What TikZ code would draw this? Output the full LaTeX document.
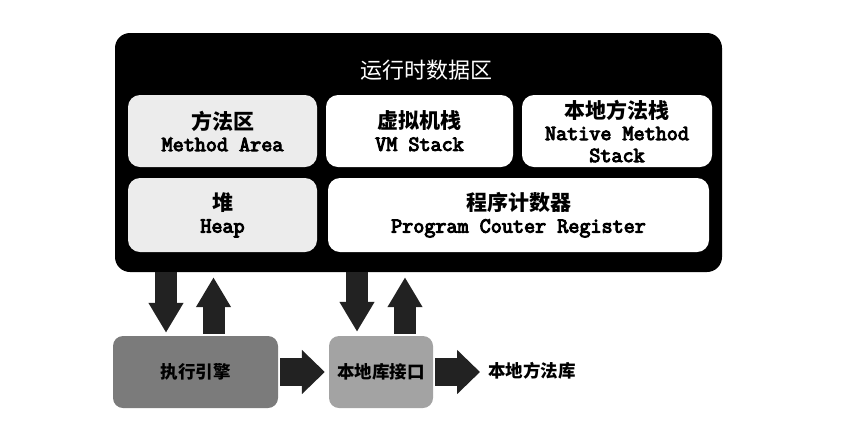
\documentclass[tikz,border=0pt]{standalone}
\usepackage{fontspec}
\usetikzlibrary{arrows.meta}
\newfontfamily\cjk{Noto Sans CJK SC}
\newfontfamily\mono[FakeBold=4.5]{Latin Modern Mono}
\definecolor{arrowc}{HTML}{222222}
\definecolor{lightfill}{HTML}{ECECEC}
\definecolor{eefill}{HTML}{7B7B7B}
\definecolor{lnifill}{HTML}{A3A3A3}
\newcommand{\zhl}[1]{{\cjk\bfseries\fontsize{21}{25}\selectfont #1}}
\newcommand{\enl}[1]{{\mono\fontsize{21.5}{20}\selectfont #1}}
\begin{document}
\begin{tikzpicture}[x=1pt,y=-1pt,
  area/.style={rounded corners=12pt, minimum height=72pt, align=center, inner sep=0pt, fill=white,
    font=\fontsize{18}{22}\selectfont},
  bottombox/.style={rounded corners=10pt, minimum height=72pt, inner sep=0pt,
    font=\cjk\bfseries\fontsize{17.5}{20}\selectfont},
  barrow/.style={draw=arrowc, line width=22pt, -{Triangle[width=33pt,length=30pt]}},
  harrow/.style={draw=arrowc, line width=28pt, -{Triangle[width=43pt,length=23pt]}}]
\useasboundingbox (0,0) rectangle (864,432);

% runtime data area
\node[fill=black, rounded corners=15pt, minimum width=607pt, minimum height=239pt, inner sep=0pt] (rt) at (418.5,152.5) {};
\node[text=white, font=\cjk\fontsize{22}{26}\selectfont] (title) at (426,70) {运行时数据区};

\node[area, fill=lightfill, minimum width=189pt] (ma) at (222.5,131) {\zhl{方法区}\\\enl{Method Area}};
\node[area, minimum width=187pt] (vm) at (419.5,131) {\zhl{虚拟机栈}\\\enl{VM Stack}};
\node[area, minimum width=190pt] (nm) at (617,131) {\zhl{本地方法栈}\\\enl{Native Method}\\\enl{Stack}};
\node[area, fill=lightfill, minimum width=189pt, minimum height=74pt] (heap) at (222.5,215) {\zhl{堆}\\\enl{Heap}};
\node[area, minimum width=381pt, minimum height=74pt] (pc) at (518.5,215) {\zhl{程序计数器}\\\enl{Program Couter Register}};

% bottom row
\node[bottombox, fill=eefill, minimum width=165pt] (ee) at (195.5,372) {执行引擎};
\node[bottombox, fill=lnifill, minimum width=104pt] (lni) at (381,372) {本地库接口};
\node[anchor=west, inner sep=4pt, font=\cjk\bfseries\fontsize{17.5}{20}\selectfont] (lib) at (484,371) {本地方法库};

% arrow columns
\coordinate (c1) at (166,0);
\coordinate (c2) at (213.5,0);
\coordinate (c3) at (357,0);
\coordinate (c4) at (405,0);

\draw[barrow, shorten >=3pt] (rt.south -| c1) -- (ee.north -| c1);
\draw[barrow, shorten <=2pt, shorten >=5pt] (ee.north -| c2) -- (rt.south -| c2);
\draw[barrow, shorten >=4pt] (rt.south -| c3) -- (lni.north -| c3);
\draw[barrow, shorten <=2pt, shorten >=5pt] (lni.north -| c4) -- (rt.south -| c4);

\draw[harrow, shorten <=2pt, shorten >=4pt] (ee.east) -- (lni.west);
\draw[harrow, shorten <=2pt, shorten >=4pt] (lni.east) -- (lni.east -| lib.west);
\end{tikzpicture}
\end{document}
